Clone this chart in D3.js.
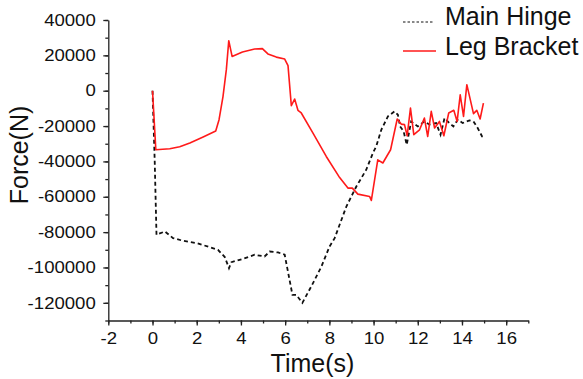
<!DOCTYPE html>
<html>
<head>
<meta charset="utf-8">
<script src="https://cdn.jsdelivr.net/npm/d3@7"></script>
<style>
  body { margin: 0; background: #fff; }
  svg { display: block; font-family: "Liberation Sans", Arial, sans-serif; }
</style>
</head>
<body>
<svg id="chart" width="583" height="379"></svg>
<script>
// Main Hinge (dashed black) - time (s), force (N)
const hingeTime = [0, 0.1, 0.18, 0.56, 0.93, 1.38, 1.99, 2.59, 2.96, 3.27, 3.46, 3.57, 4.1, 4.62, 5.07, 5.3, 5.68, 5.98,
  6.17, 6.33, 6.5, 6.78, 7.18, 7.64, 8.01, 8.24, 8.77, 9.22, 9.67, 9.97, 10.12, 10.35, 10.65, 10.95, 11.1, 11.2,
  11.36, 11.5, 11.7, 12.0, 12.3, 12.53, 12.83, 13.03, 13.21, 13.43, 13.61, 13.81, 14.03, 14.34, 14.52, 14.71, 14.91, 15.0];
const hingeForce = [0, -40000, -81500, -79600, -83400, -84900, -86200, -88500, -90000, -94100, -100400, -97000, -95100, -92800, -93800, -91000, -91500, -92800,
  -105100, -115500, -115500, -120000, -110800, -99500, -88100, -83400, -65500, -54200, -44700, -35300, -31500, -22100, -14500, -11700, -13600, -20200,
  -23000, -30600, -17400, -20200, -17400, -19200, -18300, -24900, -15500, -18300, -20200, -16400, -18300, -16800, -17400, -21100, -25900, -26500];

// Leg Bracket (solid red)
const bracketTime = [0, 0.15, 0.78, 1.23, 1.69, 2.29, 2.86, 3.01, 3.19, 3.34, 3.45, 3.6, 4.07, 4.62, 4.97, 5.22, 5.6, 5.98,
  6.13, 6.28, 6.43, 6.58, 6.73, 7.26, 7.86, 8.43, 8.84, 9.04, 9.29, 9.82, 9.9, 10.19, 10.42, 10.77, 11.07, 11.25,
  11.4, 11.52, 11.67, 11.82, 12.08, 12.3, 12.45, 12.61, 12.76, 12.98, 13.18, 13.4, 13.63, 13.78, 13.92, 14.07, 14.22,
  14.52, 14.67, 14.82, 14.97];
const bracketForce = [0, -33400, -32800, -31700, -29600, -26200, -22800, -16400, -3200, 11900, 28300, 19400, 21900, 23600, 23800, 20800, 19000, 17900,
  14200, -8500, -4700, -11100, -12600, -24000, -37200, -48500, -55100, -55100, -58500, -59800, -62100, -39100, -40900, -33400, -16000, -18900,
  -19200, -25500, -9800, -24900, -22100, -15500, -25900, -11700, -21100, -17400, -25500, -12600, -11100, -17400, -2300, -14500, 3400,
  -13000, -11100, -16000, -7000];

const xTicks = [-2, 0, 2, 4, 6, 8, 10, 12, 14, 16];
const yTicks = [40000, 20000, 0, -20000, -40000, -60000, -80000, -100000, -120000];
const legendNames = ['Main Hinge', 'Leg Bracket'];

const svg = d3.select('#chart');

const x = d3.scaleLinear().domain([-2, 17]).range([108.3, 528.3]);
const y = d3.scaleLinear().domain([-130000, 40000]).range([320.5, 20]);

// plain hyphen for negatives, like the original plot
const fmt = d => String(d);

// minor ticks first, then major axes
const xMinor = d3.range(-2, 17.01, 1);
const yMinor = d3.range(-130000, 40001, 10000);

svg.append('g')
  .attr('transform', `translate(0,${y.range()[0]})`)
  .call(d3.axisBottom(x).tickValues(xMinor).tickSize(3).tickFormat(''))
  .call(g => g.select('.domain').remove());

svg.append('g')
  .attr('transform', `translate(${x.range()[0]},0)`)
  .call(d3.axisLeft(y).tickValues(yMinor).tickSize(3).tickFormat(''))
  .call(g => g.select('.domain').remove());

const xAxis = svg.append('g')
  .attr('transform', `translate(0,${y.range()[0]})`)
  .call(d3.axisBottom(x).tickValues(xTicks).tickSize(5).tickPadding(7).tickSizeOuter(0).tickFormat(fmt));

const yAxis = svg.append('g')
  .attr('transform', `translate(${x.range()[0]},0)`)
  .call(d3.axisLeft(y).tickValues(yTicks).tickSize(5).tickPadding(6).tickSizeOuter(0).tickFormat(fmt));

[xAxis, yAxis].forEach(g => {
  g.selectAll('text')
    .attr('font-size', 16.3)
    .attr('fill', '#111')
    .attr('font-family', '"Liberation Sans", Arial, sans-serif')
    .attr('transform', 'scale(1.14,1)');
});
svg.selectAll('.domain, .tick line').attr('stroke', '#222').attr('stroke-width', 1.3);

// axis titles
svg.append('text')
  .attr('x', 312.5).attr('y', 372)
  .attr('text-anchor', 'middle')
  .attr('font-size', 25)
  .attr('fill', '#111')
  .text('Time(s)');

svg.append('text')
  .attr('transform', 'translate(28,155) rotate(-90)')
  .attr('text-anchor', 'middle')
  .attr('font-size', 25)
  .attr('fill', '#111')
  .text('Force(N)');

const line = d3.line().x(d => x(d[0])).y(d => y(d[1]));

const hinge = hingeTime.map((t, i) => [t, hingeForce[i]]);
const bracket = bracketTime.map((t, i) => [t, bracketForce[i]]);

svg.append('path')
  .datum(hinge)
  .attr('d', line)
  .attr('fill', 'none')
  .attr('stroke', '#111')
  .attr('stroke-width', 1.8)
  .attr('stroke-dasharray', '4,3');

svg.append('path')
  .datum(bracket)
  .attr('d', line)
  .attr('fill', 'none')
  .attr('stroke', '#ff1a1a')
  .attr('stroke-width', 1.6)
  .attr('stroke-linejoin', 'round');

// legend
const legend = svg.append('g');
legend.append('line')
  .attr('x1', 403).attr('x2', 433).attr('y1', 22).attr('y2', 22)
  .attr('stroke', '#111').attr('stroke-width', 1).attr('stroke-dasharray', '2.5,2');
legend.append('line')
  .attr('x1', 403).attr('x2', 436).attr('y1', 51).attr('y2', 51)
  .attr('stroke', '#ff1a1a').attr('stroke-width', 1.3);
legend.selectAll('text.leg')
  .data(legendNames)
  .enter()
  .append('text')
  .attr('class', 'leg')
  .attr('x', 445)
  .attr('y', (d, i) => 25 + i * 30)
  .attr('font-size', 25)
  .attr('fill', '#111')
  .text(d => d);
</script>
</body>
</html>
